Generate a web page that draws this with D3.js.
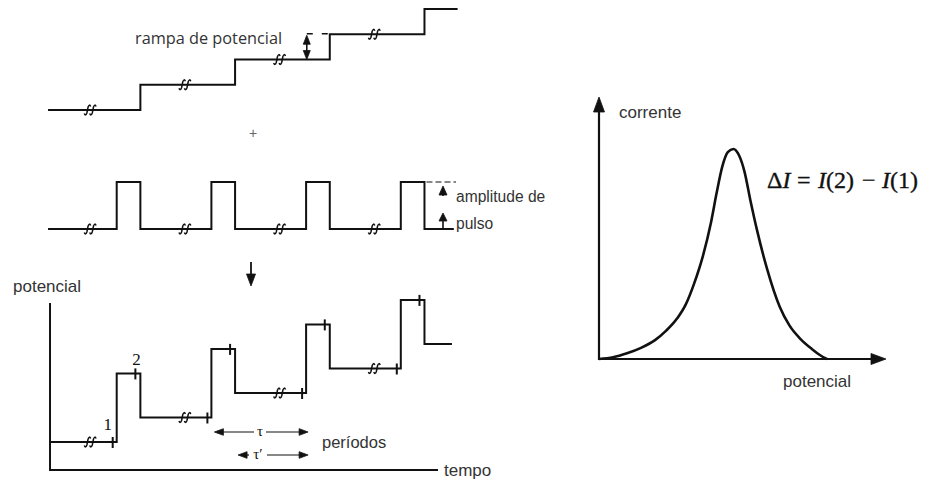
<!DOCTYPE html>
<html>
<head>
<meta charset="utf-8">
<script src="https://cdn.jsdelivr.net/npm/d3@7/dist/d3.min.js"></script>
<style>
  html, body { margin: 0; padding: 0; background: #fff; }
  svg { display: block; }
</style>
</head>
<body>
<svg id="chart" width="925" height="482"></svg>
<script>
// ---------------- data ----------------
// Time (arbitrary units): a pulse starts at each integer time, the ramp steps at the end of the pulse
const pulseTimes = [1, 2, 3, 4];
const pulseWidth = 0.25;
const rampLevels = [0, 1, 2, 3, 4];          // staircase levels (in step units)
const pulseAmplitude = 2.8;                   // pulse height in step units (combined waveform)
const breakTimes = [0.72, 1.72, 2.72, 3.72];  // axis-break symbols
const tStartRamp = 0.275, tEndRamp = 4.6;
const tStartPulse = 0.275, tEndPulse = 4.56;
const tStartComb = 0.296, tEndComb = 4.54;
const sampleLabels = ["1", "2"];
const periodLabels = ["\u03c4", "\u03c4\u2032"];

// Differential pulse voltammogram (relative units)
const dpPotential = [0, 5, 10, 15, 20, 24, 28, 31, 34, 37, 40, 42, 44, 46, 48, 50, 52, 54, 56.5, 60, 64.5, 68, 72, 76, 79, 81.4];
const dpCurrent   = [0, 0.8, 2.7, 5.3, 9, 13.5, 19.5, 26, 36, 48.5, 65, 79, 91.5, 98.5, 100, 97, 89, 76, 61, 43, 25, 16, 9.5, 4.8, 1.8, 0];

const labels = {
  ramp: "rampa de potencial",
  amp1: "amplitude de",
  amp2: "pulso",
  yLeft: "potencial",
  xLeft: "tempo",
  periods: "per\u00edodos",
  yRight: "corrente",
  xRight: "potencial"
};

// ---------------- drawing ----------------
const svg = d3.select("#chart");
const ink = "#111";
const textCol = "#333";
const sans = "'Liberation Sans', Arial, sans-serif";
const serif = "'Liberation Serif', 'Times New Roman', serif";

const xT = d3.scaleLinear().domain([0, 5]).range([22, 495.5]);
const rampY = d3.scaleLinear().domain([0, 4]).range([110, 9]);
const pulseY = d3.scaleLinear().domain([0, 1]).range([229, 182]);
const combY = d3.scaleLinear().domain([0, 1]).range([442, 417.5]);

function arrowHead(g, tx, ty, dir, len, hw) {
  let pts;
  if (dir === "up") pts = [[tx, ty], [tx - hw, ty + len], [tx + hw, ty + len]];
  else if (dir === "down") pts = [[tx, ty], [tx - hw, ty - len], [tx + hw, ty - len]];
  else if (dir === "left") pts = [[tx, ty], [tx + len, ty - hw], [tx + len, ty + hw]];
  else pts = [[tx, ty], [tx - len, ty - hw], [tx - len, ty + hw]];
  g.append("path").attr("d", "M" + pts.map(p => p.join(",")).join("L") + "Z")
    .attr("fill", ink).attr("stroke", ink).attr("stroke-width", 0.8).attr("stroke-linejoin", "miter");
}

function breakMark(g, x, y) {
  [-2.7, 2.7].forEach(dx => {
    const cx = x + dx;
    g.append("path")
      .attr("d", `M${cx - 3.2},${y + 3.5} Q${cx - 2},${y + 6.5} ${cx - 0.6},${y + 3} L${cx + 0.6},${y - 3} Q${cx + 2},${y - 6.5} ${cx + 3.2},${y - 3.5}`)
      .attr("fill", "none").attr("stroke", ink).attr("stroke-width", 1.5);
  });
}

const lineGen = (ys) => d3.line().x(d => xT(d[0])).y(d => ys(d[1])).curve(d3.curveStepAfter);

// --- panel 1: staircase ramp
const g1 = svg.append("g");
const rampPts = [[tStartRamp, rampLevels[0]]];
pulseTimes.forEach((t, i) => rampPts.push([t + pulseWidth, rampLevels[i + 1]]));
rampPts.push([tEndRamp, rampLevels[rampLevels.length - 1]]);
g1.append("path").attr("d", lineGen(rampY)(rampPts))
  .attr("fill", "none").attr("stroke", ink).attr("stroke-width", 2);
breakTimes.forEach((t, i) => breakMark(g1, xT(t), rampY(rampLevels[i])));

// ramp-size dimension marker (between 3rd and 4th levels)
{
  const ax = xT(3.25) - 23;
  const yLow = rampY(2), yHigh = rampY(3);
  g1.append("line").attr("x1", ax).attr("x2", ax).attr("y1", yHigh + 6).attr("y2", yLow - 6)
    .attr("stroke", ink).attr("stroke-width", 1.6);
  arrowHead(g1, ax, yHigh + 1, "up", 9, 3.5);
  arrowHead(g1, ax, yLow, "down", 9, 3.5);
  g1.append("line").attr("x1", ax).attr("x2", xT(3.25) - 2).attr("y1", yHigh - 0.5).attr("y2", yHigh - 0.5)
    .attr("stroke", ink).attr("stroke-width", 1.5).attr("stroke-dasharray", "6,9");
}
svg.append("text").attr("x", 135).attr("y", 43.5).text(labels.ramp)
  .attr("font-family", "'Open Sans', sans-serif").attr("font-size", 16.3).attr("fill", textCol);

// plus sign
svg.append("text").attr("x", 253).attr("y", 138).attr("text-anchor", "middle").text("+")
  .attr("font-family", sans).attr("font-size", 14).attr("fill", "#666");

// --- panel 2: pulse train
const g2 = svg.append("g");
const pulsePts = [[tStartPulse, 0]];
pulseTimes.forEach(t => { pulsePts.push([t, 1]); pulsePts.push([t + pulseWidth, 0]); });
pulsePts.push([tEndPulse, 0]);
g2.append("path").attr("d", lineGen(pulseY)(pulsePts))
  .attr("fill", "none").attr("stroke", ink).attr("stroke-width", 2);
breakTimes.forEach(t => breakMark(g2, xT(t), pulseY(0)));
{
  const ax = 443;
  g2.append("line").attr("x1", xT(4.25) + 2).attr("x2", 456).attr("y1", pulseY(1)).attr("y2", pulseY(1))
    .attr("stroke", ink).attr("stroke-width", 1.2).attr("stroke-dasharray", "6,3");
  g2.append("line").attr("x1", ax).attr("x2", ax).attr("y1", pulseY(1) + 10).attr("y2", pulseY(1) + 14)
    .attr("stroke", ink).attr("stroke-width", 1.6);
  arrowHead(g2, ax, pulseY(1) + 4, "up", 9, 4);
  g2.append("line").attr("x1", ax).attr("x2", ax).attr("y1", pulseY(0)).attr("y2", pulseY(0) - 9)
    .attr("stroke", ink).attr("stroke-width", 1.6);
  arrowHead(g2, ax, pulseY(0) - 16, "up", 8, 4);
}
svg.append("text").attr("x", 456).attr("y", 202).text(labels.amp1)
  .attr("font-family", sans).attr("font-size", 15.6).attr("fill", textCol);
svg.append("text").attr("x", 456).attr("y", 229).text(labels.amp2)
  .attr("font-family", sans).attr("font-size", 15.6).attr("fill", textCol);

// down arrow
svg.append("line").attr("x1", 251).attr("x2", 251).attr("y1", 262).attr("y2", 277)
  .attr("stroke", ink).attr("stroke-width", 1.8);
arrowHead(svg, 251, 286, "down", 12, 4.5);

// --- panel 3: combined waveform
const g3 = svg.append("g");
const axX0 = xT(tStartComb);
g3.append("line").attr("x1", axX0).attr("x2", axX0).attr("y1", 303).attr("y2", 470)
  .attr("stroke", ink).attr("stroke-width", 2);
g3.append("line").attr("x1", axX0 - 1).attr("x2", 438).attr("y1", 470).attr("y2", 470)
  .attr("stroke", ink).attr("stroke-width", 2);

const combPts = [[tStartComb, rampLevels[0]]];
pulseTimes.forEach((t, i) => {
  combPts.push([t, rampLevels[i] + pulseAmplitude]);
  combPts.push([t + pulseWidth, rampLevels[i + 1]]);
});
combPts.push([tEndComb, rampLevels[rampLevels.length - 1]]);
g3.append("path").attr("d", lineGen(combY)(combPts))
  .attr("fill", "none").attr("stroke", ink).attr("stroke-width", 2);
breakTimes.forEach((t, i) => breakMark(g3, xT(t), combY(rampLevels[i])));
// sampling ticks just before pulse rise and pulse fall
pulseTimes.forEach((t, i) => {
  const x1 = xT(t) - 4, y1 = combY(rampLevels[i]);
  const x2 = xT(t + pulseWidth) - 5, y2 = combY(rampLevels[i] + pulseAmplitude);
  [[x1, y1], [x2, y2]].forEach(([x, y]) => {
    g3.append("line").attr("x1", x).attr("x2", x).attr("y1", y - 5).attr("y2", y + 6)
      .attr("stroke", ink).attr("stroke-width", 2);
  });
});
svg.append("text").attr("x", xT(1) - 9).attr("y", 430).attr("text-anchor", "middle").text(sampleLabels[0])
  .attr("font-family", serif).attr("font-size", 17).attr("fill", ink);
svg.append("text").attr("x", xT(1.25) - 4).attr("y", 365).attr("text-anchor", "middle").text(sampleLabels[1])
  .attr("font-family", serif).attr("font-size", 17).attr("fill", ink);

// period arrows
function periodArrow(t0, t1, y, labelX, label) {
  const xa = xT(t0) + 3, xb = xT(t1) + 2;
  const gap = label.length > 1 ? 9 : 6;
  svg.append("line").attr("x1", xa + 4).attr("x2", labelX - gap).attr("y1", y).attr("y2", y)
    .attr("stroke", ink).attr("stroke-width", 1.2);
  svg.append("line").attr("x1", labelX + gap).attr("x2", xb - 4).attr("y1", y).attr("y2", y)
    .attr("stroke", ink).attr("stroke-width", 1.2);
  arrowHead(svg, xa, y, "left", 9, 3.3);
  arrowHead(svg, xb, y, "right", 9, 3.3);
  svg.append("text").attr("x", labelX).attr("y", y + 4).attr("text-anchor", "middle").text(label)
    .attr("font-family", serif).attr("font-size", 15).attr("fill", ink);
}
periodArrow(pulseTimes[1], pulseTimes[2], 432, 260, periodLabels[0]);
periodArrow(pulseTimes[1] + pulseWidth, pulseTimes[2], 455, 258, periodLabels[1]);

svg.append("text").attr("x", 322).attr("y", 448).text(labels.periods)
  .attr("font-family", sans).attr("font-size", 16.5).attr("fill", textCol);
svg.append("text").attr("x", 13).attr("y", 292).text(labels.yLeft)
  .attr("font-family", sans).attr("font-size", 17).attr("fill", textCol);
svg.append("text").attr("x", 444).attr("y", 476).text(labels.xLeft)
  .attr("font-family", sans).attr("font-size", 17).attr("fill", textCol);

// --- panel 4: differential pulse voltammogram
const xP = d3.scaleLinear().domain([0, 100]).range([599, 879]);
const yC = d3.scaleLinear().domain([0, 100]).range([359, 149]);
const g4 = svg.append("g");
g4.append("line").attr("x1", xP(0)).attr("x2", xP(0)).attr("y1", yC(0) + 1).attr("y2", 108)
  .attr("stroke", ink).attr("stroke-width", 2.2);
arrowHead(g4, xP(0), 97, "up", 15, 5.5);
g4.append("line").attr("x1", xP(0) - 1).attr("x2", 874).attr("y1", yC(0)).attr("y2", yC(0))
  .attr("stroke", ink).attr("stroke-width", 2.2);
arrowHead(g4, 886, yC(0), "right", 15, 5.5);

const dpData = dpPotential.map((p, i) => [p, dpCurrent[i]]);
g4.append("path")
  .attr("d", d3.line().x(d => xP(d[0])).y(d => yC(d[1])).curve(d3.curveMonotoneX)(dpData))
  .attr("fill", "none").attr("stroke", ink).attr("stroke-width", 2.6);

svg.append("text").attr("x", 619).attr("y", 118).text(labels.yRight)
  .attr("font-family", sans).attr("font-size", 17).attr("fill", textCol);
svg.append("text").attr("x", 783).attr("y", 387).text(labels.xRight)
  .attr("font-family", sans).attr("font-size", 17).attr("fill", textCol);

// formula ΔI = I(2) − I(1)
{
  const fy = 188, fs = 24;
  const f = svg.append("text").attr("y", fy).attr("font-family", serif).attr("font-size", fs)
    .attr("fill", ink).attr("stroke", ink).attr("stroke-width", 0.35);
  const parts = [
    {x: 767, t: "\u0394", it: false},
    {x: null, t: "I", it: true},
    {x: 797, t: "=", it: false},
    {x: 818, t: "I", it: true},
    {x: null, t: "(2)", it: false},
    {x: 862, t: "\u2212", it: false},
    {x: 882, t: "I", it: true},
    {x: null, t: "(1)", it: false}
  ];
  parts.forEach(p => {
    const ts = f.append("tspan").text(p.t).attr("font-style", p.it ? "italic" : "normal");
    if (p.x !== null) ts.attr("x", p.x);
  });
}
</script>
</body>
</html>
